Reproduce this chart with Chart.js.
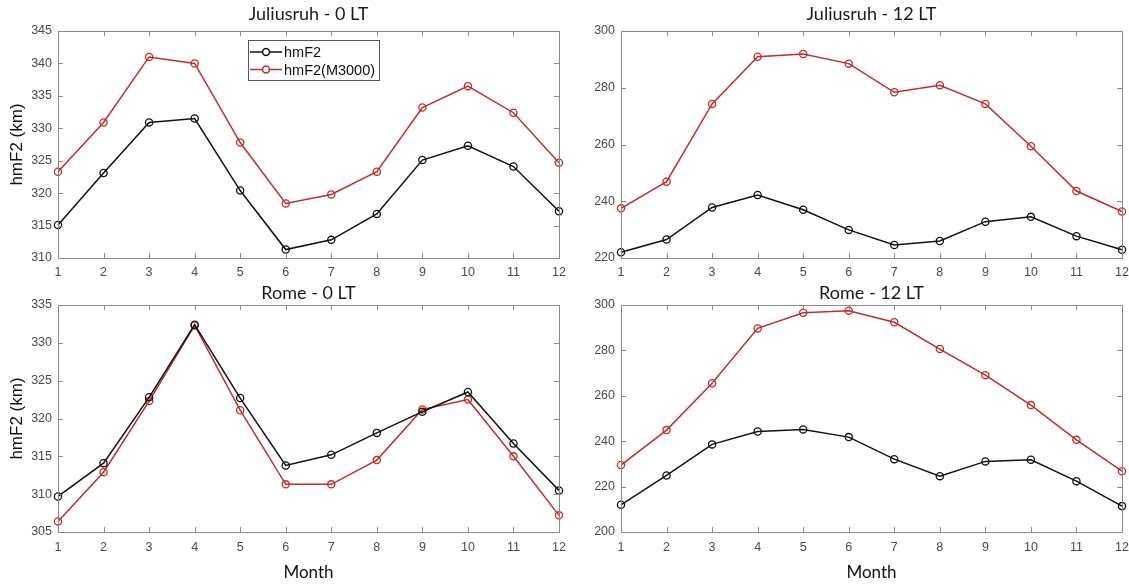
<!DOCTYPE html>
<html>
<head>
<meta charset="utf-8">
<script src="https://cdn.jsdelivr.net/npm/chart.js@4.4.1/dist/chart.umd.min.js"></script>
<style>
html, body { margin: 0; padding: 0; background: #fff; }
#wrap { position: relative; width: 1129px; height: 586px; overflow: hidden; }
.panel { position: absolute; }
</style>
</head>
<body>
<div id="wrap">
  <div class="panel" style="left:0;top:0;width:568px;height:282px"><canvas id="jul0"></canvas></div>
  <div class="panel" style="left:568px;top:0;width:561px;height:282px"><canvas id="jul12"></canvas></div>
  <div class="panel" style="left:0;top:282px;width:568px;height:304px"><canvas id="rome0"></canvas></div>
  <div class="panel" style="left:568px;top:282px;width:561px;height:304px"><canvas id="rome12"></canvas></div>
</div>
<script>
var months = ['1', '2', '3', '4', '5', '6', '7', '8', '9', '10', '11', '12'];

// Juliusruh
var jul0_hmF2  = [315.1, 323.1, 330.9, 331.5, 320.4, 311.3, 312.8, 316.8, 325.1, 327.3, 324.1, 317.2];
var jul0_m3000 = [323.3, 330.9, 341.0, 340.0, 327.8, 318.4, 319.8, 323.3, 333.2, 336.5, 332.4, 324.7];
var jul12_hmF2  = [222.0, 226.5, 237.8, 242.2, 237.0, 229.9, 224.6, 226.0, 232.8, 234.5, 227.7, 222.9];
var jul12_m3000 = [237.5, 246.9, 274.3, 290.9, 291.9, 288.5, 278.4, 280.9, 274.3, 259.4, 243.6, 236.4];

// Rome
var rome0_hmF2  = [309.7, 314.1, 322.8, 332.4, 322.7, 313.8, 315.2, 318.1, 320.9, 323.5, 316.7, 310.5];
var rome0_m3000 = [306.4, 312.9, 322.3, 332.3, 321.1, 311.3, 311.3, 314.5, 321.2, 322.5, 315.0, 307.2];
var rome12_hmF2  = [212.0, 224.9, 238.6, 244.3, 245.2, 241.8, 232.1, 224.6, 231.1, 231.8, 222.4, 211.4];
var rome12_m3000 = [229.5, 244.9, 265.5, 289.7, 296.6, 297.5, 292.4, 280.6, 269.1, 255.9, 240.6, 226.8];

var seriesNames = ['hmF2', 'hmF2(M3000)'];
var seriesColors = ['#111111', '#c42b2b'];

var axisFont = { family: 'Liberation Sans, Arial, sans-serif', size: 12.5 };
var titleFont = { family: 'Lato, Open Sans, sans-serif', size: 18, weight: 'normal' };

// matlab-like box with inward ticks on all four sides
var boxPlugin = {
  id: 'box',
  afterDraw: function (chart) {
    var ctx = chart.ctx, a = chart.chartArea;
    var xs = chart.scales.x, ys = chart.scales.y;
    ctx.save();
    ctx.strokeStyle = '#8a8a8a';
    ctx.lineWidth = 1;
    ctx.beginPath();
    xs.ticks.forEach(function (t, i) {
      var px = Math.round(xs.getPixelForTick(i)) + 0.5;
      ctx.moveTo(px, a.bottom); ctx.lineTo(px, a.bottom - 5);
      ctx.moveTo(px, a.top); ctx.lineTo(px, a.top + 5);
    });
    ys.ticks.forEach(function (t, i) {
      var py = Math.round(ys.getPixelForTick(i)) + 0.5;
      ctx.moveTo(a.left, py); ctx.lineTo(a.left + 5, py);
      ctx.moveTo(a.right, py); ctx.lineTo(a.right - 5, py);
    });
    ctx.stroke();
    ctx.strokeRect(Math.round(a.left) + 0.5, Math.round(a.top) + 0.5,
      Math.round(a.right - a.left), Math.round(a.bottom - a.top));
    ctx.restore();
  }
};

// legend box inside the first panel
var legendPlugin = {
  id: 'insideLegend',
  afterDraw: function (chart, args, opts) {
    if (!opts.show) return;
    var ctx = chart.ctx;
    var x = 248, y = 40, w = 131, h = 40;
    ctx.save();
    ctx.fillStyle = '#fff';
    ctx.fillRect(x, y, w, h);
    ctx.strokeStyle = '#555';
    ctx.lineWidth = 1;
    ctx.strokeRect(x + 0.5, y + 0.5, w, h);
    ctx.font = '14.5px Liberation Sans, Arial, sans-serif';
    ctx.textBaseline = 'middle';
    chart.data.datasets.forEach(function (ds, i) {
      var ly = y + 12 + i * 17.5;
      ctx.strokeStyle = ds.borderColor;
      ctx.lineWidth = 1.5;
      ctx.beginPath();
      ctx.moveTo(x + 2, ly); ctx.lineTo(x + 34, ly);
      ctx.stroke();
      ctx.beginPath();
      ctx.arc(x + 18, ly, 3.4, 0, Math.PI * 2);
      ctx.fillStyle = '#fff';
      ctx.fill();
      ctx.stroke();
      ctx.fillStyle = '#111';
      ctx.fillText(ds.label, x + 36, ly + 1);
    });
    ctx.restore();
  }
};

function makePanel(id, title, a, b, yMin, yMax, step, cfg) {
  var datasets = [a, b].map(function (vals, i) {
    return {
      label: seriesNames[i],
      data: vals,
      borderColor: seriesColors[i],
      borderWidth: 1.5,
      pointRadius: 3.6,
      pointBorderWidth: 1.3,
      pointBackgroundColor: 'rgba(0,0,0,0)',
      pointBorderColor: seriesColors[i],
      tension: 0
    };
  });
  return new Chart(document.getElementById(id), {
    type: 'line',
    data: { labels: months, datasets: datasets },
    plugins: [boxPlugin, legendPlugin],
    options: {
      responsive: true,
      maintainAspectRatio: false,
      animation: false,
      layout: { padding: 0 },
      plugins: {
        legend: { display: false },
        tooltip: { enabled: false },
        insideLegend: { show: !!cfg.legend },
        title: {
          display: true,
          text: title,
          fullSize: false,
          color: '#1a1a1a',
          font: titleFont,
          padding: { top: cfg.titleTop, bottom: cfg.titleBottom }
        }
      },
      scales: {
        x: {
          type: 'category',
          offset: false,
          grid: { display: false, drawTicks: false },
          border: { display: false },
          ticks: { color: '#4a4a4a', font: axisFont, padding: cfg.xPad, maxRotation: 0, autoSkip: false },
          title: {
            display: !!cfg.xTitle,
            text: 'Month',
            color: '#111',
            font: { family: 'Lato, Open Sans, sans-serif', size: 17 },
            padding: { top: 0, bottom: 3 }
          },
          afterFit: function (s) {
            s.height = cfg.xHeight;
            s.paddingLeft = 0;
            s.paddingRight = cfg.right;
          }
        },
        y: {
          min: yMin,
          max: yMax,
          grid: { display: false, drawTicks: false },
          border: { display: false },
          ticks: { stepSize: step, color: '#4a4a4a', font: axisFont, padding: 6 },
          title: {
            display: !!cfg.yTitle,
            text: 'hmF2 (km)',
            color: '#111',
            font: { family: 'Liberation Sans, Arial, sans-serif', size: 17 },
            padding: { top: 7, bottom: 0 }
          },
          afterFit: function (s) { s.width = cfg.yWidth; }
        }
      }
    }
  });
}

makePanel('jul0', 'Juliusruh - 0 LT', jul0_hmF2, jul0_m3000, 310, 345, 5,
  { right: 9, titleTop: 3, titleBottom: 6.4, xPad: 7, xHeight: 24, yWidth: 58, yTitle: true, legend: true });
makePanel('jul12', 'Juliusruh - 12 LT', jul12_hmF2, jul12_m3000, 220, 300, 20,
  { right: 7, titleTop: 3, titleBottom: 6.4, xPad: 7, xHeight: 24, yWidth: 53 });
makePanel('rome0', 'Rome - 0 LT', rome0_hmF2, rome0_m3000, 305, 335, 5,
  { right: 9, titleTop: 0, titleBottom: 1.4, xPad: 8, xHeight: 54, yWidth: 58, yTitle: true, xTitle: true });
makePanel('rome12', 'Rome - 12 LT', rome12_hmF2, rome12_m3000, 200, 300, 20,
  { right: 7, titleTop: 0, titleBottom: 1.4, xPad: 8, xHeight: 54, yWidth: 53, xTitle: true });
</script>
</body>
</html>
